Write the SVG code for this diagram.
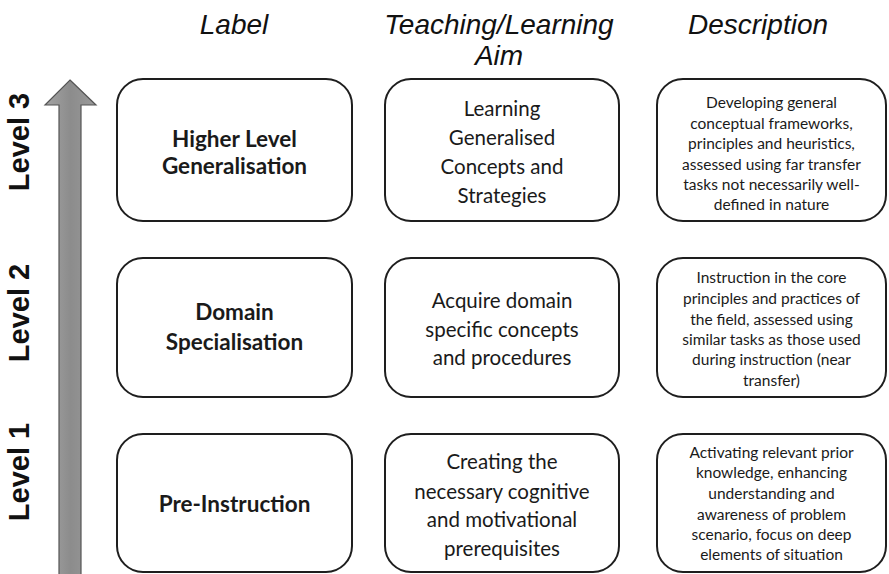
<svg xmlns="http://www.w3.org/2000/svg" width="889" height="574" viewBox="0 0 889 574">
  <defs>
    <linearGradient id="shaftFill" x1="0" y1="0" x2="1" y2="0">
      <stop offset="0" stop-color="#a4a4a4"/>
      <stop offset="0.5" stop-color="#8c8c8c"/>
      <stop offset="1" stop-color="#9a9a9a"/>
    </linearGradient>
  </defs>
  <style>
    .box { fill: #ffffff; stroke: #1e1e1e; stroke-width: 2; }
    .head { font-family: "Liberation Sans", Arial, sans-serif; font-style: italic; font-size: 28px; fill: #111; text-anchor: middle; }
    .lvl { font-family: "Liberation Sans", Arial, sans-serif; font-weight: bold; font-size: 29px; fill: #111; text-anchor: middle; }
    .lab { font-family: Lato, "Noto Sans", sans-serif; font-weight: bold; font-size: 22.5px; fill: #1a1a1a; text-anchor: middle; }
    .aim { font-family: Lato, "Noto Sans", sans-serif; font-size: 20.5px; fill: #1a1a1a; text-anchor: middle; }
    .desc { font-family: Lato, "Noto Sans", sans-serif; font-size: 15.5px; fill: #1a1a1a; text-anchor: middle; }
  </style>

  <rect width="889" height="574" fill="#ffffff"/>

  <!-- column headings -->
  <g id="headings">
    <text class="head" x="234" y="34">Label</text>
    <text class="head" x="499" y="34">Teaching/Learning</text>
    <text class="head" x="499" y="65">Aim</text>
    <text class="head" x="758" y="34">Description</text>
  </g>

  <!-- progression arrow -->
  <g id="arrow">
    <path d="M70,80 L96,105 L81,105 L81,580 L59,580 L59,105 L45,105 Z" fill="url(#shaftFill)" stroke="#555" stroke-width="1.2"/>
  </g>

  <!-- level labels -->
  <g id="levels">
    <text class="lvl" transform="translate(29,142) rotate(-90)">Level 3</text>
    <text class="lvl" transform="translate(29,313) rotate(-90)">Level 2</text>
    <text class="lvl" transform="translate(29,472) rotate(-90)">Level 1</text>
  </g>

  <!-- Level 3 -->
  <g id="label-3">
    <rect class="box" x="117" y="79" width="235" height="142" rx="26"/>
    <text class="lab" x="234.5" y="147">Higher Level</text>
    <text class="lab" x="234.5" y="174">Generalisation</text>
  </g>
  <g id="aim-3">
    <rect class="box" x="385" y="79" width="234" height="142" rx="26"/>
    <text class="aim" x="502" y="116">Learning</text>
    <text class="aim" x="502" y="145">Generalised</text>
    <text class="aim" x="502" y="174">Concepts and</text>
    <text class="aim" x="502" y="203">Strategies</text>
  </g>
  <g id="desc-3">
    <rect class="box" x="657" y="79" width="229" height="142" rx="26"/>
    <text class="desc" x="771.5" y="108">Developing general</text>
    <text class="desc" x="771.5" y="129">conceptual frameworks,</text>
    <text class="desc" x="771.5" y="149">principles and heuristics,</text>
    <text class="desc" x="771.5" y="170">assessed using far transfer</text>
    <text class="desc" x="771.5" y="190">tasks not necessarily well-</text>
    <text class="desc" x="771.5" y="210">defined in nature</text>
  </g>

  <!-- Level 2 -->
  <g id="label-2">
    <rect class="box" x="117" y="258" width="235" height="139" rx="26"/>
    <text class="lab" x="234.5" y="320">Domain</text>
    <text class="lab" x="234.5" y="350">Specialisation</text>
  </g>
  <g id="aim-2">
    <rect class="box" x="385" y="258" width="234" height="139" rx="26"/>
    <text class="aim" x="502" y="308">Acquire domain</text>
    <text class="aim" x="502" y="337">specific concepts</text>
    <text class="aim" x="502" y="365">and procedures</text>
  </g>
  <g id="desc-2">
    <rect class="box" x="657" y="258" width="229" height="139" rx="26"/>
    <text class="desc" x="771.5" y="283">Instruction in the core</text>
    <text class="desc" x="771.5" y="304">principles and practices of</text>
    <text class="desc" x="771.5" y="325">the field, assessed using</text>
    <text class="desc" x="771.5" y="345">similar tasks as those used</text>
    <text class="desc" x="771.5" y="365">during instruction (near</text>
    <text class="desc" x="771.5" y="386">transfer)</text>
  </g>

  <!-- Level 1 -->
  <g id="label-1">
    <rect class="box" x="117" y="434" width="235" height="138" rx="26"/>
    <text class="lab" x="234.5" y="512">Pre-Instruction</text>
  </g>
  <g id="aim-1">
    <rect class="box" x="385" y="434" width="234" height="138" rx="26"/>
    <text class="aim" x="502" y="469">Creating the</text>
    <text class="aim" x="502" y="499">necessary cognitive</text>
    <text class="aim" x="502" y="527">and motivational</text>
    <text class="aim" x="502" y="556">prerequisites</text>
  </g>
  <g id="desc-1">
    <rect class="box" x="657" y="434" width="229" height="138" rx="26"/>
    <text class="desc" x="771.5" y="458">Activating relevant prior</text>
    <text class="desc" x="771.5" y="478">knowledge, enhancing</text>
    <text class="desc" x="771.5" y="499">understanding and</text>
    <text class="desc" x="771.5" y="520">awareness of problem</text>
    <text class="desc" x="771.5" y="540">scenario, focus on deep</text>
    <text class="desc" x="771.5" y="560">elements of situation</text>
  </g>
</svg>
